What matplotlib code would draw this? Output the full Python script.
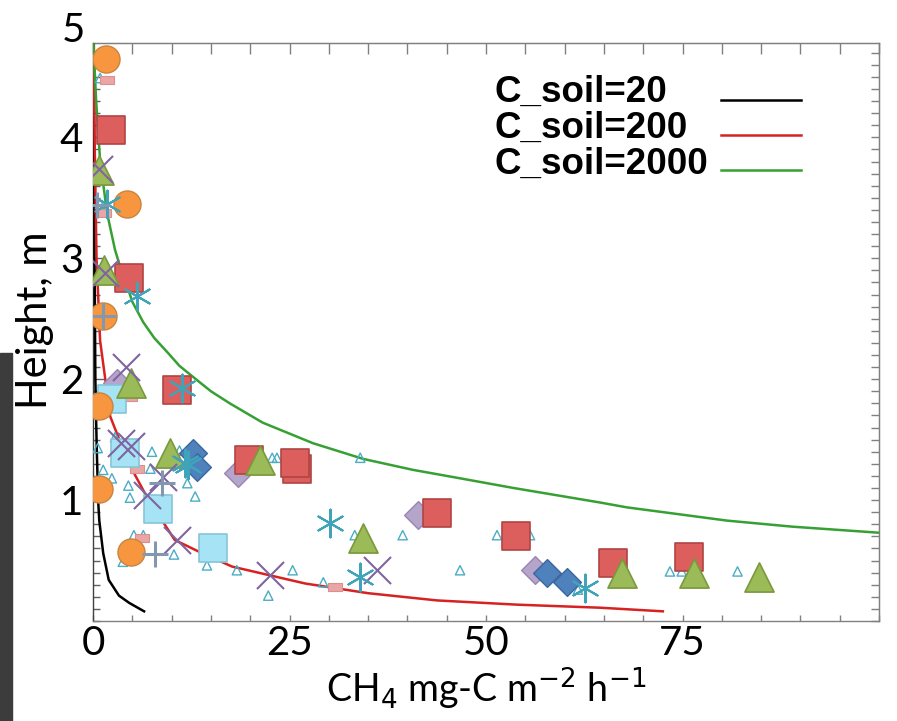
import matplotlib
matplotlib.use('Agg')
import matplotlib.pyplot as plt
from matplotlib.patches import Rectangle
from matplotlib.lines import Line2D
from matplotlib.path import Path
from matplotlib.ticker import MultipleLocator, FixedLocator

# ---------------- data ----------------
# model curves (CH4 flux, height)
x20 = [0.1, 0.15, 0.2, 0.3, 0.45, 0.65, 0.8, 1.3, 2.0, 3.3, 4.6, 6.5]
y20 = [4.78, 4.0, 3.0, 2.0, 1.5, 1.0, 0.83, 0.56, 0.34, 0.21, 0.15, 0.08]

x200 = [0.1, 0.2, 0.45, 0.9, 2.2, 4.5, 6.9, 8.8, 10.4, 13.9, 17.7, 27.0, 35.0, 43.8, 54.0, 64.5, 72.5]
y200 = [4.78, 4.0, 3.0, 2.32, 1.69, 1.31, 1.02, 0.83, 0.67, 0.56, 0.45, 0.31, 0.23, 0.17, 0.135, 0.11, 0.08]

x2000 = [0.05, 0.4, 0.9, 1.8, 2.8, 3.5, 4.3, 5.0, 6.4, 7.8, 9.5, 11.0, 12.7, 15.0, 17.4, 21.6,
         28.0, 34.4, 40.7, 46.7, 53.5, 64.5, 67.9, 80.7, 89.0, 100.0]
y2000 = [4.78, 4.3, 3.81, 3.37, 3.07, 2.92, 2.78, 2.64, 2.47, 2.34, 2.22, 2.11, 2.02, 1.90, 1.80, 1.64,
         1.47, 1.34, 1.25, 1.18, 1.10, 0.98, 0.94, 0.83, 0.78, 0.73]

legend_labels = ['C_soil=20', 'C_soil=200', 'C_soil=2000']
line_colors = ['black', '#d62222', '#36a033']

# observations
orange_x = [1.65, 4.3, 1.3, 0.76, 0.76, 4.8]
orange_y = [4.65, 3.45, 2.52, 1.78, 1.09, 0.57]

redsq_x = [2.3, 4.6, 10.7, 19.8, 25.9, 25.7, 43.8, 53.8, 66.2, 75.8]
redsq_y = [4.06, 2.84, 1.91, 1.33, 1.26, 1.31, 0.89, 0.70, 0.48, 0.53]

gtri_x = [0.8, 1.4, 4.8, 9.8, 21.2, 34.4, 67.3, 76.5, 84.7]
gtri_y = [3.73, 2.90, 1.97, 1.39, 1.33, 0.69, 0.40, 0.40, 0.36]

cyansq_x = [2.4, 4.1, 8.3, 15.3]
cyansq_y = [1.84, 1.39, 0.93, 0.60]

purx_x = [0.76, 1.5, 4.2, 3.6, 4.8, 8.9, 6.9, 10.7, 22.5, 36.1]
purx_y = [3.74, 2.88, 2.10, 1.47, 1.45, 1.19, 1.04, 0.67, 0.38, 0.42]

ast_x = [1.8, 5.6, 11.3, 12.1, 11.7, 30.2, 34.0, 62.6]
ast_y = [3.45, 2.69, 1.93, 1.29, 1.31, 0.81, 0.36, 0.27]

bdia_x = [12.7, 13.2, 57.8, 60.3]
bdia_y = [1.39, 1.27, 0.40, 0.32]

ldia_x = [3.0, 18.4, 41.3, 56.2]
ldia_y = [1.97, 1.22, 0.88, 0.42]

stri_x = [0.9, 0.9, 0.6, 2.8, 1.3, 2.4, 4.5, 4.7, 7.5, 7.3, 11.0, 12.0, 13.0, 22.8, 23.4,
          3.8, 5.2, 6.4, 10.3, 14.5, 18.3, 25.4, 22.3, 34.0, 33.3, 39.4, 29.3, 46.7, 51.4,
          55.6, 58.8, 73.4, 74.9, 82.0, 61.7]
stri_y = [4.49, 3.45, 1.43, 1.52, 1.25, 1.18, 1.12, 1.02, 1.40, 1.26, 1.41, 1.14, 1.03, 1.35, 1.35,
          0.49, 0.71, 0.71, 0.55, 0.46, 0.42, 0.42, 0.21, 1.35, 0.71, 0.71, 0.32, 0.42, 0.71,
          0.71, 0.40, 0.41, 0.41, 0.41, 0.26]

pink_x = [1.8, 1.4, 4.7, 5.6, 6.2, 30.8]
pink_y = [4.47, 3.37, 1.85, 1.26, 0.69, 0.28]

plus_x = [1.3, 0.5, 8.8, 7.9]
plus_y = [2.52, 3.44, 1.14, 0.55]

xtick_vals = [0, 25, 50, 75]
ytick_vals = [1, 2, 3, 4]

# ---------------- figure ----------------
W, H = 897, 721
fig = plt.figure(figsize=(W / 100, H / 100), dpi=100)
fig.patches.append(Rectangle((0, 0), 12 / W, (H - 353) / H, transform=fig.transFigure,
                             color='#3c3c3c', zorder=0))
ax = fig.add_axes([93 / W, 100 / H, 786 / W, 578 / H])
ax.set_xlim(0, 100)
ax.set_ylim(0, 4.78)

tick_font = ['Lato', 'DejaVu Sans']

# model lines
ax.plot(x20, y20, color=line_colors[0], lw=1.8, zorder=3)
ax.plot(x200, y200, color=line_colors[1], lw=1.8, zorder=3)
ax.plot(x2000, y2000, color=line_colors[2], lw=1.8, zorder=3)

# observations
ax.scatter(stri_x, stri_y, marker='^', s=45, facecolor='none', edgecolor='#4bacc6', lw=1.0, zorder=4)
rect = Path([(-1, -0.55), (1, -0.55), (1, 0.55), (-1, 0.55), (-1, -0.55)],
            [Path.MOVETO, Path.LINETO, Path.LINETO, Path.LINETO, Path.CLOSEPOLY])
ax.scatter(pink_x, pink_y, marker=rect, s=110, facecolor='#eaa5a5', edgecolor='#d99090', lw=0.8, zorder=5)
ax.scatter(ldia_x, ldia_y, marker='D', s=200, facecolor='#b6a5cb', edgecolor='#9986b3', lw=1.0, zorder=5)
ax.scatter(bdia_x, bdia_y, marker='D', s=200, facecolor='#4f81bd', edgecolor='#3a67a0', lw=1.0, zorder=5)
ax.scatter(redsq_x, redsq_y, marker='s', s=410, facecolor='#dc5f5e', edgecolor='#b04444', lw=1.2, zorder=5)
ax.scatter(cyansq_x, cyansq_y, marker='s', s=400, facecolor='#a6e3f5', edgecolor='#86c4d8', lw=1.2, zorder=5)
ax.scatter(gtri_x, gtri_y, marker='^', s=440, facecolor='#9bbb59', edgecolor='#7a993c', lw=1.2, zorder=6)
ax.scatter(orange_x, orange_y, marker='o', s=380, facecolor='#f7963f', edgecolor='#c9843f', lw=1.0, zorder=6)
ax.scatter(purx_x, purx_y, marker='x', s=380, color='#8064a2', lw=1.5, zorder=7)
ax.scatter(ast_x, ast_y, marker=(6, 2, 0), s=400, color='#3fa3ba', lw=1.5, zorder=7)
ax.scatter(plus_x, plus_y, marker='+', s=350, color='#8497b0', lw=2.2, zorder=8)

# axes styling
for sp in ax.spines.values():
    sp.set_color('#808080')
    sp.set_linewidth(1.0)
ax.spines['left'].set_color('#404040')

ax.xaxis.set_major_locator(FixedLocator(xtick_vals))
ax.xaxis.set_minor_locator(MultipleLocator(5))
ax.yaxis.set_major_locator(FixedLocator(ytick_vals))
ax.yaxis.set_minor_locator(MultipleLocator(0.1))
ax.tick_params(axis='x', which='both', direction='in', length=4, width=1, color='#808080',
               pad=3, labelsize=29)
ax.tick_params(axis='y', which='major', direction='in', length=8, width=1, color='#606060',
               pad=7, labelsize=29)
ax.tick_params(axis='y', which='minor', direction='in', length=5, width=1, color='#606060')
ax.set_xticklabels([str(v) for v in xtick_vals], family=tick_font)
ax.set_yticklabels([str(v) for v in ytick_vals], family=tick_font)

top = ax.secondary_xaxis('top')
top.xaxis.set_major_locator(MultipleLocator(5))
top.tick_params(direction='in', length=8, width=1, color='#808080', labeltop=False)
top.spines['top'].set_color('#808080')
right = ax.secondary_yaxis('right')
right.yaxis.set_major_locator(MultipleLocator(0.1))
right.tick_params(direction='in', length=6, width=1, color='#808080', labelright=False)
right.spines['right'].set_color('#808080')

fig.text(85 / W, 1 - 30 / H, '5', ha='right', va='center', fontsize=29, family=tick_font)

plt.rcParams['mathtext.fontset'] = 'custom'
plt.rcParams['mathtext.rm'] = 'Lato'
ax.set_xlabel(r'CH$_4$ mg-C m$^{-2}$ h$^{-1}$', fontsize=27, family=tick_font, labelpad=3)
ax.set_ylabel('Height, m', fontsize=30, family=tick_font)
ax.yaxis.set_label_coords(-0.05, 0.52)

# legend: left-aligned bold labels followed by line keys
text_y = [92, 128, 164]
key_y = [100, 135, 170]
for lab, col, ty, ky in zip(legend_labels, line_colors, text_y, key_y):
    fig.text(494 / W, 1 - ty / H, lab, ha='left', va='center', fontsize=26.5,
             family='Liberation Sans', weight='bold')
    fig.add_artist(Line2D([721 / W, 801 / W], [1 - ky / H, 1 - ky / H], color=col, lw=1.8,
                          transform=fig.transFigure))

fig.savefig('out.png', dpi=100)
